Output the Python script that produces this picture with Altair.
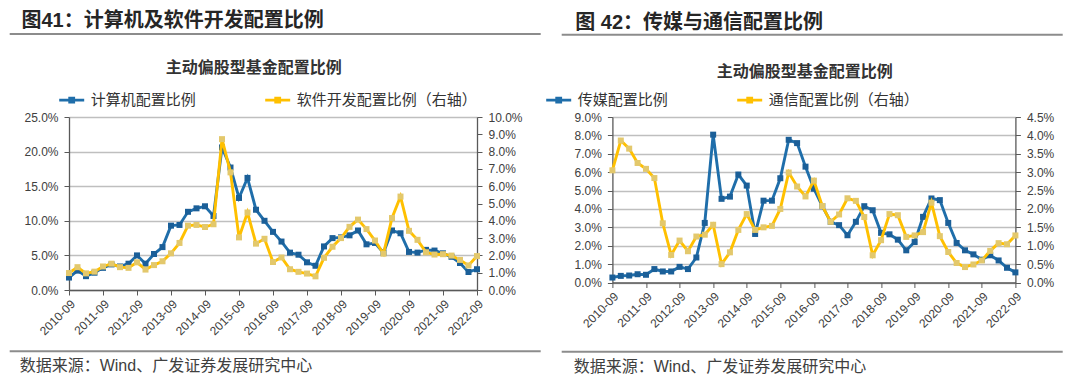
import altair as alt
import pandas as pd

# ---------------- data ----------------
quarters = [
    "2010-09", "2010-12", "2011-03", "2011-06", "2011-09", "2011-12", "2012-03", "2012-06",
    "2012-09", "2012-12", "2013-03", "2013-06", "2013-09", "2013-12", "2014-03", "2014-06",
    "2014-09", "2014-12", "2015-03", "2015-06", "2015-09", "2015-12", "2016-03", "2016-06",
    "2016-09", "2016-12", "2017-03", "2017-06", "2017-09", "2017-12", "2018-03", "2018-06",
    "2018-09", "2018-12", "2019-03", "2019-06", "2019-09", "2019-12", "2020-03", "2020-06",
    "2020-09", "2020-12", "2021-03", "2021-06", "2021-09", "2021-12", "2022-03", "2022-06",
    "2022-09",
]
year_ticks = ["2010-09", "2011-09", "2012-09", "2013-09", "2014-09", "2015-09", "2016-09",
              "2017-09", "2018-09", "2019-09", "2020-09", "2021-09", "2022-09"]

# Figure 41 (%)
computer = [1.8, 2.8, 2.0, 2.5, 3.2, 3.7, 3.4, 3.8, 5.0, 3.8, 5.2, 6.2, 9.3, 9.4, 11.3, 11.8,
            12.1, 10.7, 20.6, 17.7, 13.3, 16.2, 11.6, 10.0, 8.4, 7.0, 5.4, 5.1, 4.0, 3.5, 6.3, 7.5,
            7.6, 7.9, 8.6, 6.6, 6.8, 5.4, 8.6, 8.2, 5.5, 5.4, 5.8, 5.7, 5.3, 4.8, 3.9, 2.6, 3.0]
software = [0.98, 1.32, 0.96, 1.06, 1.36, 1.52, 1.32, 1.28, 1.60, 1.18, 1.44, 1.66, 2.12, 2.72,
            3.72, 3.76, 3.64, 3.80, 8.72, 6.80, 3.04, 4.48, 2.68, 2.96, 1.62, 1.88, 1.20, 1.05,
            0.95, 0.79, 1.86, 2.50, 3.00, 3.65, 4.07, 3.52, 2.86, 2.10, 4.16, 5.40, 3.42, 2.90,
            2.18, 2.05, 2.07, 1.99, 1.74, 1.42, 1.96]
# Figure 42 (%)
media = [0.27, 0.36, 0.38, 0.45, 0.42, 0.73, 0.60, 0.60, 0.85, 0.73, 1.36, 3.24, 8.04, 4.55,
         4.67, 5.87, 5.27, 2.64, 4.45, 4.45, 5.67, 7.76, 7.58, 6.30, 5.10, 4.15, 3.30, 3.12,
         2.57, 3.30, 4.15, 3.93, 2.70, 2.62, 2.33, 1.75, 2.20, 3.57, 4.57, 4.48, 3.24, 2.15,
         1.75, 1.53, 1.24, 1.48, 1.20, 0.80, 0.55]
telecom = [3.05, 3.86, 3.64, 3.25, 3.09, 2.84, 1.61, 0.75, 1.14, 0.85, 1.25, 1.30, 1.57, 0.50,
           0.82, 1.43, 1.86, 1.43, 1.50, 1.54, 2.00, 2.99, 2.61, 2.34, 2.77, 2.08, 1.65, 1.85,
           2.29, 2.22, 1.78, 0.74, 1.15, 1.86, 1.83, 1.24, 1.28, 1.37, 2.17, 1.26, 0.83, 0.53,
           0.42, 0.49, 0.60, 0.86, 1.07, 1.04, 1.28]

left_ticks_41 = [0, 5, 10, 15, 20, 25]
right_ticks_41 = [0, 1, 2, 3, 4, 5, 6, 7, 8, 9, 10]
left_ticks_42 = [0, 1, 2, 3, 4, 5, 6, 7, 8, 9]
right_ticks_42 = [0, 0.5, 1, 1.5, 2, 2.5, 3, 3.5, 4, 4.5]

heading_41 = "图41：计算机及软件开发配置比例"
heading_42 = "图 42：传媒与通信配置比例"
chart_title = "主动偏股型基金配置比例"
source_text = "数据来源：Wind、广发证券发展研究中心"
names_41 = ["计算机配置比例", "软件开发配置比例（右轴）"]
names_42 = ["传媒配置比例", "通信配置比例（右轴）"]

# ---------------- style ----------------
FONT = "Liberation Sans, Noto Sans CJK SC, sans-serif"
CJK = "Noto Sans CJK SC, sans-serif"
BLUE = "#1F6EAA"
BLUE_MK = "#1B5F98"
YEL = "#FFC000"
YEL_MK = "#E3C86C"
AXIS_C = "#595959"
LEG_PATH = "M-1,0H1M-0.16,-0.16H0.16V0.16H-0.16Z"


def pct_expr():
    return "format(datum.value, '.1f') + '%'"


def txt(s, x, y, size, weight="normal", align="left", baseline="middle", font=FONT,
        color="#262626"):
    return alt.Chart(pd.DataFrame({"t": [s]})).mark_text(
        align=align, baseline=baseline, fontSize=size, fontWeight=weight, font=font, color=color
    ).encode(x=alt.value(x), y=alt.value(y), text="t:N")


def hrule(x1, x2, y):
    return alt.Chart(pd.DataFrame({"k": [0]})).mark_rule(color="#8C8C8C", strokeWidth=2).encode(
        x=alt.value(x1), x2=alt.value(x2), y=alt.value(y))


def make_panel(lvals, rvals, names, lticks, rticks, w, h, ox, oy, heading, hx, hy_top,
               title_cx, title_y, leg_x, leg_y, col_pad, rule_x1, rule_x2, top_rule_y,
               bot_rule_y, src_x, src_y):
    df = pd.DataFrame({"q": quarters, "lv": lvals, "rv": rvals,
                       "ls": [names[0]] * len(quarters), "rs": [names[1]] * len(quarters)})
    base = alt.Chart(df)
    xenc = alt.X("q:O", sort=quarters, scale=alt.Scale(type="point", padding=0),
                 axis=alt.Axis(values=year_ticks, labelAngle=-45, title=None, labelFontSize=12,
                               labelFont=FONT, labelColor="#404040", domainColor=AXIS_C,
                               tickColor=AXIS_C, tickSize=5, domainWidth=1.3, labelPadding=3,
                               grid=False))
    cscale = alt.Scale(domain=names, range=[BLUE, YEL])
    leg = alt.Legend(title=None, orient="none", legendX=leg_x - ox, legendY=leg_y - oy,
                     direction="horizontal", symbolType=LEG_PATH, symbolSize=625,
                     symbolStrokeWidth=2.8, labelFont=CJK, labelFontSize=15,
                     labelColor="#333333", labelOffset=5, columnPadding=col_pad, labelLimit=400)
    lscale = alt.Scale(domain=[0, lticks[-1]], nice=False)
    rscale = alt.Scale(domain=[0, rticks[-1]], nice=False)
    yl = alt.Y("lv:Q", scale=lscale, axis=alt.Axis(
        values=lticks, labelExpr=pct_expr(), title=None, grid=True, gridColor="#BFBFBF",
        gridWidth=1.6, labelFontSize=12, labelFont=FONT, labelColor="#404040",
        domainColor=AXIS_C, tickColor=AXIS_C, tickSize=5, domainWidth=1.3, labelPadding=6))
    yr = alt.Y("rv:Q", scale=rscale, axis=alt.Axis(
        orient="right", values=rticks, labelExpr=pct_expr(), title=None, grid=False,
        labelFontSize=12, labelFont=FONT, labelColor="#404040", domainColor=AXIS_C,
        tickColor=AXIS_C, tickSize=5, domainWidth=1.3, labelPadding=6))
    line_l = base.mark_line(strokeWidth=2.9).encode(
        x=xenc, y=yl, color=alt.Color("ls:N", scale=cscale, legend=leg))
    pt_l = base.mark_point(shape="square", filled=True, size=36, opacity=1, color=BLUE_MK).encode(
        x=xenc, y=alt.Y("lv:Q", scale=lscale, axis=None))
    line_r = base.mark_line(strokeWidth=2.9).encode(
        x=xenc, y=yr, color=alt.Color("rs:N", scale=cscale, legend=leg))
    pt_r = base.mark_point(shape="square", filled=True, size=36, opacity=1, color=YEL_MK).encode(
        x=xenc, y=alt.Y("rv:Q", scale=rscale, axis=None))
    return alt.layer(
        line_l, pt_l, line_r, pt_r,
        txt(heading, hx - ox, hy_top - oy, 20, weight="bold", baseline="top", color="#262626"),
        hrule(rule_x1 - ox, rule_x2 - ox, top_rule_y - oy),
        txt(chart_title, title_cx - ox, title_y - oy, 16, weight="bold", align="center",
            font=CJK, color="#333333"),
        hrule(rule_x1 - ox, rule_x2 - ox, bot_rule_y - oy),
        txt(source_text, src_x - ox, src_y - oy, 16, color="#404040"),
    ).resolve_scale(y="independent").properties(width=w, height=h)


OY = 116.8
left = make_panel(computer, software, names_41, left_ticks_41, right_ticks_41, 408, 173,
                  68.3, OY, heading_41, 20.8, 11, 253, 68, 57, 86, 62,
                  9, 540, 33.9, 351, 19, 366)
right = make_panel(media, telecom, names_42, left_ticks_42, right_ticks_42, 403, 165.5,
                   611.7, OY, heading_42, 574.6, 12.7, 804, 72, 621.7, 86.5, 62,
                   561, 1062, 34.6, 351.6, 573, 366.5)

chart = alt.hconcat(left, right, spacing=135.4, bounds="flush").properties(
    padding={"left": 0, "top": 3, "right": 0, "bottom": 0}, background="white"
).configure_view(strokeWidth=0)

chart.save("out.html", embed_options={"renderer": "svg", "actions": False})
